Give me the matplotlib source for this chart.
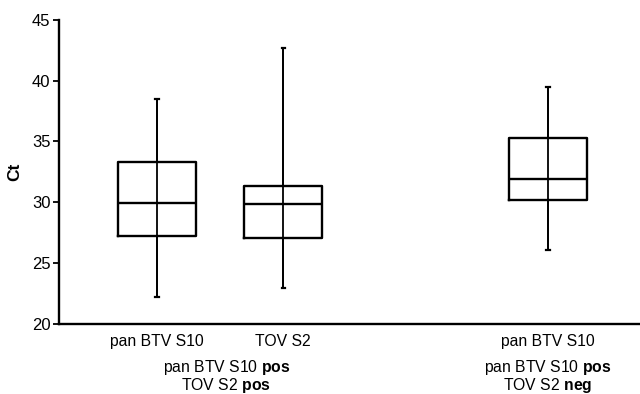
import matplotlib
matplotlib.use("Agg")
import matplotlib.pyplot as plt

# Box statistics (Ct values)
positions = [1.0, 2.0, 4.1]
tick_labels = ["pan BTV S10", "TOV S2", "pan BTV S10"]
whislo = [22.2, 22.95, 26.1]
q1 = [27.2, 27.05, 30.2]
med = [29.9, 29.85, 31.9]
q3 = [33.3, 31.3, 35.3]
whishi = [38.5, 42.7, 39.5]

group_pos = [1.55, 4.1]
group_lines1 = [r"pan BTV S10 $\bf{pos}$", r"pan BTV S10 $\bf{pos}$"]
group_lines2 = [r"TOV S2 $\bf{pos}$", r"TOV S2 $\bf{neg}$"]

plt.rcParams["font.family"] = ["Liberation Sans", "DejaVu Sans"]
plt.rcParams["mathtext.fontset"] = "custom"
plt.rcParams["mathtext.rm"] = "Liberation Sans"
plt.rcParams["mathtext.bf"] = "Liberation Sans:bold"

fig = plt.figure(figsize=(6.4, 3.94), dpi=100)
ax = fig.add_axes([0.092, 0.178, 0.908, 0.772])

stats = []
for i in range(len(positions)):
    stats.append({"whislo": whislo[i], "q1": q1[i], "med": med[i],
                  "q3": q3[i], "whishi": whishi[i], "fliers": []})

# whisker line runs through the box
ax.vlines(positions, whislo, whishi, color="black", lw=1.3, zorder=1)
ax.bxp(stats, positions=positions, widths=0.62, showfliers=False,
       patch_artist=False, capwidths=0.025,
       boxprops=dict(color="black", lw=1.7),
       medianprops=dict(color="black", lw=1.7),
       whiskerprops=dict(color="black", lw=1.3),
       capprops=dict(color="black", lw=1.6))

ax.set_xlim(0.222, 4.83)
ax.set_ylim(20, 45)
ax.set_yticks([20, 25, 30, 35, 40, 45])
ax.set_xticks(positions)
ax.set_xticklabels(tick_labels, fontsize=11.3)
ax.tick_params(axis="x", length=0, pad=7)
ax.tick_params(axis="y", length=4, width=1.3, labelsize=12, pad=2)
ax.set_ylabel("Ct", fontsize=12.5, fontweight="bold", labelpad=7)

for s in ["top", "right"]:
    ax.spines[s].set_visible(False)
for s in ["left", "bottom"]:
    ax.spines[s].set_linewidth(1.7)

for gx, l1, l2 in zip(group_pos, group_lines1, group_lines2):
    ax.text(gx, 16.4, l1, ha="center", va="center", fontsize=11.3,
            clip_on=False)
    ax.text(gx, 14.95, l2, ha="center", va="center", fontsize=11.3,
            clip_on=False)

fig.savefig("out.png", dpi=100)
